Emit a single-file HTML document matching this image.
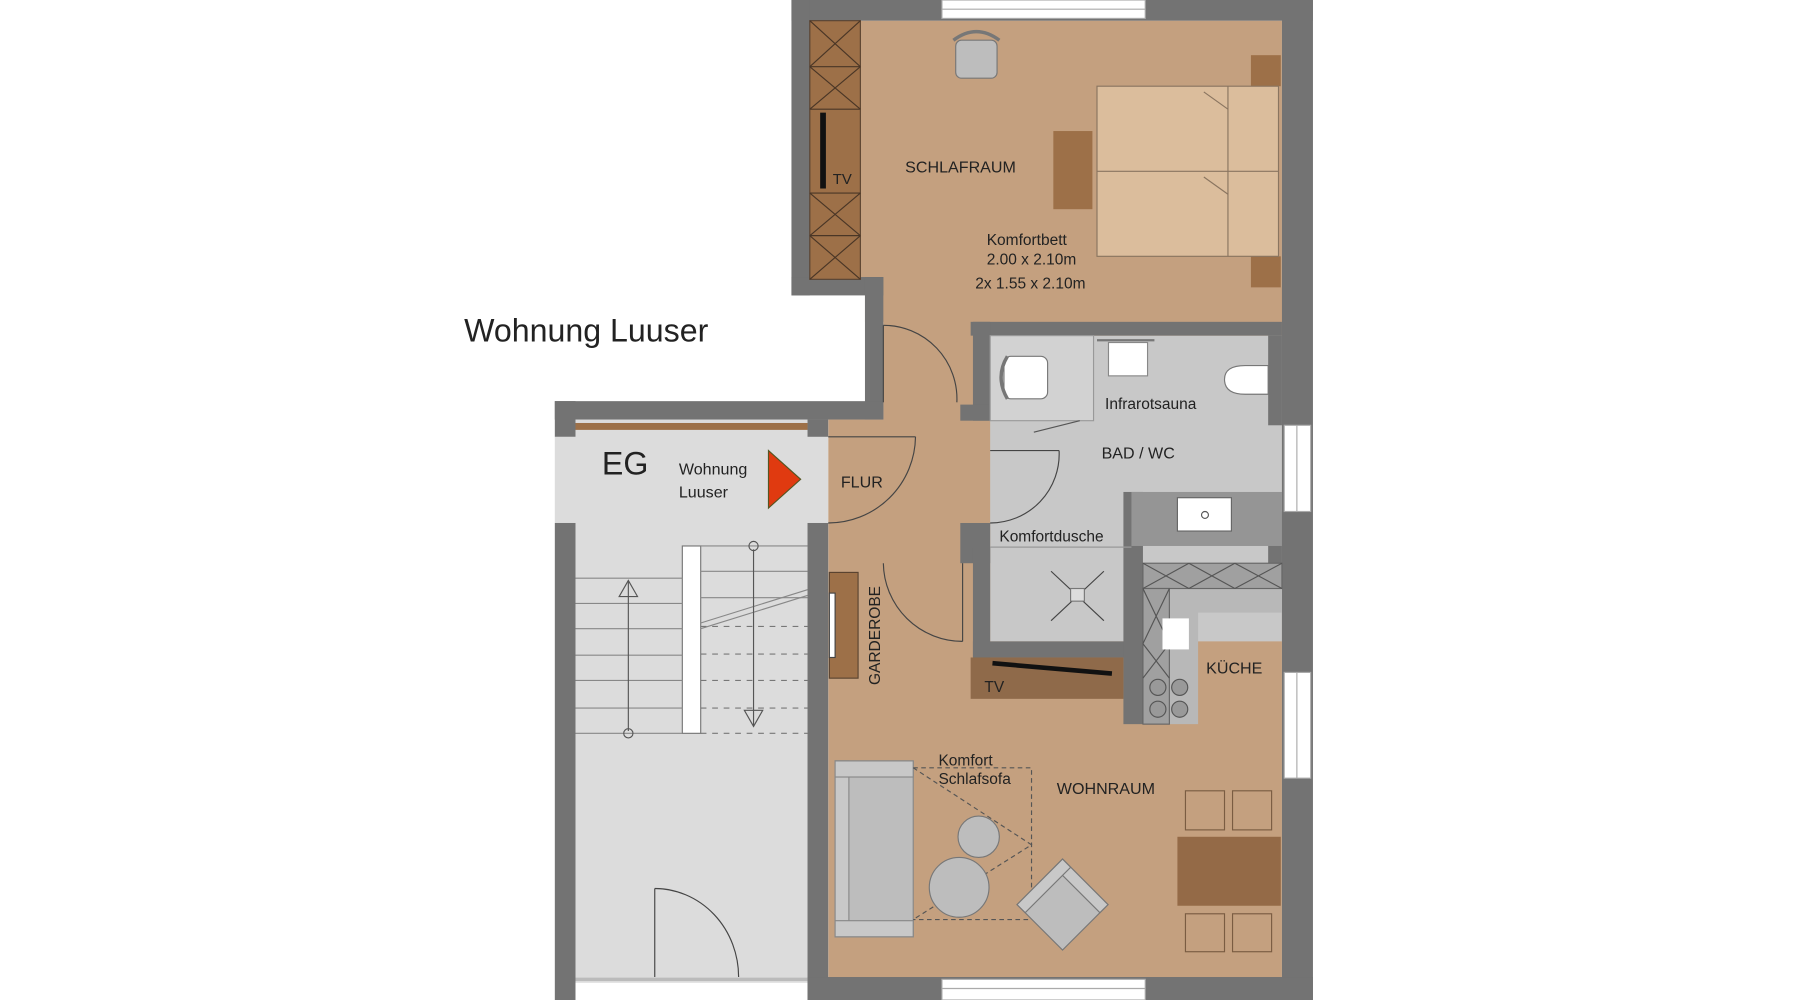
<!DOCTYPE html>
<html><head><meta charset="utf-8"><style>
html,body{margin:0;padding:0;background:#fff;width:1800px;height:1000px;overflow:hidden}
svg{display:block}
text{font-family:"Liberation Sans",sans-serif;fill:#222}
</style></head><body>
<svg width="1800" height="1000" viewBox="0 0 1567 870" preserveAspectRatio="none" xmlns="http://www.w3.org/2000/svg">
<rect width="1567" height="870" fill="#fff"/>
<!-- floors -->
<rect x="705" y="18" width="411" height="262" fill="#c4a07f"/>
<rect x="689" y="241" width="64" height="45" fill="#fff"/>
<rect x="769" y="250" width="347" height="610" fill="#c4a07f"/>
<rect x="721" y="365" width="60" height="490" fill="#c4a07f"/>
<rect x="862" y="292" width="254" height="266" fill="#c8c8c8"/>
<rect x="501" y="365" width="220" height="490" fill="#dcdcdc"/>
<rect x="483" y="380" width="20" height="75" fill="#dcdcdc"/>
<!-- walls -->
<g fill="#737373">
<rect x="689" y="0" width="454" height="18"/>
<rect x="689" y="0" width="16" height="257"/>
<rect x="689" y="241" width="80" height="16"/>
<rect x="753" y="241" width="16" height="124"/>
<rect x="483" y="349" width="286" height="16"/>
<rect x="483" y="349" width="18" height="31"/>
<rect x="483" y="455" width="18" height="415"/>
<rect x="703" y="365" width="18" height="15"/>
<rect x="703" y="455" width="18" height="415"/>
<rect x="1116" y="0" width="27" height="870"/>
<rect x="703" y="850" width="440" height="20"/>
<rect x="845" y="280" width="271" height="12"/>
<rect x="847" y="280" width="15" height="86"/>
<rect x="836" y="352" width="26" height="14"/>
<rect x="836" y="455" width="26" height="35"/>
<rect x="847" y="476" width="15" height="96"/>
<rect x="847" y="558" width="138" height="14"/>
<rect x="978" y="428" width="17" height="202"/>
<rect x="1104" y="292" width="12" height="78"/>
<rect x="1104" y="445" width="12" height="45"/>
</g>
<!-- windows -->
<g fill="#fff" stroke="#aaa" stroke-width="1">
<rect x="820" y="0" width="177" height="16"/>
<rect x="820" y="852" width="177" height="18"/>
<rect x="1118" y="370" width="23" height="75"/>
<rect x="1118" y="585" width="23" height="92"/>
</g>
<g stroke="#aaa" stroke-width="1">
<line x1="820" y1="8" x2="997" y2="8"/><line x1="820" y1="860" x2="997" y2="860"/>
<line x1="1129" y1="370" x2="1129" y2="445"/><line x1="1129" y1="585" x2="1129" y2="677"/>
</g>
<!-- bedroom -->
<rect x="705" y="18" width="44" height="225" fill="#9d7048" stroke="#5a4330" stroke-width="1"/>
<g stroke="#4a3626" stroke-width="1" fill="none">
<path d="M705 18L749 58M749 18L705 58M705 58L749 95M749 58L705 95M705 168L749 205M749 168L705 205M705 205L749 243M749 205L705 243"/>
<line x1="705" y1="58" x2="749" y2="58"/><line x1="705" y1="95" x2="749" y2="95"/><line x1="705" y1="168" x2="749" y2="168"/><line x1="705" y1="205" x2="749" y2="205"/>
</g>
<rect x="714" y="98" width="5" height="66" fill="#111"/>
<text x="725" y="160" font-size="13">TV</text>
<rect x="832" y="35" width="36" height="33" rx="5" fill="#bdbdbd" stroke="#777"/>
<path d="M830 35Q850 20 870 35" fill="none" stroke="#777" stroke-width="3"/>
<rect x="1089" y="48" width="26" height="27" fill="#9d7048"/>
<rect x="1089" y="223" width="26" height="27" fill="#9d7048"/>
<rect x="955" y="75" width="158" height="148" fill="#dbbd9c" stroke="#8a7560"/>
<g stroke="#8a7560" fill="none"><line x1="955" y1="149" x2="1113" y2="149"/><line x1="1069" y1="75" x2="1069" y2="223"/><line x1="1048" y1="80" x2="1069" y2="95"/><line x1="1048" y1="154" x2="1069" y2="169"/></g>
<rect x="917" y="114" width="34" height="68" fill="#9d7048"/>
<text x="788" y="150" font-size="14">SCHLAFRAUM</text>
<text x="859" y="213" font-size="13.5">Komfortbett</text>
<text x="859" y="230" font-size="13.5">2.00 x 2.10m</text>
<text x="849" y="251" font-size="13.5">2x 1.55 x 2.10m</text>
<!-- doors -->
<g fill="none" stroke="#444" stroke-width="1">
<path d="M769 283A64 64 0 0 1 833 350"/><line x1="769" y1="283" x2="769" y2="350"/>
<path d="M721 455A76 76 0 0 0 797 380"/><line x1="721" y1="380" x2="797" y2="380"/>
<path d="M769 490A69 69 0 0 0 838 558"/><line x1="838" y1="490" x2="838" y2="558"/>
<path d="M862 455A60 60 0 0 0 922 392"/><line x1="862" y1="392" x2="922" y2="392"/>
<path d="M570 773A73 77 0 0 1 643 850"/><line x1="570" y1="773" x2="570" y2="850"/>
</g>
<text x="732" y="424" font-size="14">FLUR</text>
<!-- bathroom -->
<rect x="862" y="292" width="90" height="74" fill="#d2d2d2" stroke="#999"/>
<rect x="874" y="310" width="38" height="37" rx="6" fill="#fff" stroke="#777"/>
<path d="M877 310Q866 328 877 347" fill="none" stroke="#777" stroke-width="3"/>
<line x1="900" y1="376" x2="940" y2="366" stroke="#555"/>
<rect x="965" y="298" width="34" height="29" fill="#fff" stroke="#888"/>
<line x1="955" y1="296" x2="1005" y2="296" stroke="#777" stroke-width="2"/>
<path d="M1104 318H1084Q1066 318 1066 330Q1066 343 1084 343H1104Z" fill="#fff" stroke="#777"/>
<text x="962" y="356" font-size="13.5">Infrarotsauna</text>
<text x="959" y="399" font-size="14">BAD / WC</text>
<rect x="985" y="428" width="131" height="47" fill="#959595"/>
<rect x="1025" y="433" width="47" height="29" fill="#fff" stroke="#666"/>
<circle cx="1049" cy="448" r="3" fill="none" stroke="#555"/>
<line x1="862" y1="476" x2="985" y2="476" stroke="#999"/>
<text x="870" y="471" font-size="13.5">Komfortdusche</text>
<g stroke="#444"><line x1="915" y1="497" x2="961" y2="540"/><line x1="961" y1="497" x2="915" y2="540"/></g>
<rect x="932" y="512" width="12" height="11" fill="#ddd" stroke="#777"/>
<!-- garderobe -->
<rect x="722" y="498" width="25" height="92" fill="#9d7048" stroke="#5a4330"/>
<rect x="722" y="516" width="5" height="56" fill="#fff" stroke="#444"/>
<text transform="translate(766,596) rotate(-90)" font-size="13.5">GARDEROBE</text>
<!-- tv unit -->
<rect x="845" y="572" width="133" height="36" fill="#8f6a4a"/>
<line x1="864" y1="577" x2="968" y2="586" stroke="#111" stroke-width="4"/>
<text x="857" y="602" font-size="13.5">TV</text>
<!-- kitchen -->
<rect x="995" y="490" width="121" height="43" fill="#b8b8b8"/>
<rect x="995" y="490" width="48" height="140" fill="#b8b8b8"/>
<rect x="995" y="490" width="121" height="22" fill="#a0a0a0" stroke="#666"/>
<rect x="995" y="512" width="23" height="118" fill="#a0a0a0" stroke="#666"/>
<g stroke="#555" fill="none"><path d="M995 490L1035 512M1035 490L995 512M1035 490L1075 512M1075 490L1035 512M1075 490L1116 512M1116 490L1075 512M995 512L1018 560M1018 512L995 560M995 560L1018 590M1018 560L995 590"/></g>
<rect x="1012" y="538" width="23" height="27" fill="#fff"/>
<g fill="#999" stroke="#555"><circle cx="1008" cy="598" r="7"/><circle cx="1027" cy="598" r="7"/><circle cx="1008" cy="617" r="7"/><circle cx="1027" cy="617" r="7"/></g>
<text x="1050" y="586" font-size="14">KÜCHE</text>
<!-- living -->
<rect x="727" y="662" width="68" height="153" fill="#bdbdbd" stroke="#888"/>
<rect x="727" y="662" width="12" height="153" fill="#c8c8c8" stroke="#888"/>
<rect x="727" y="662" width="68" height="14" fill="#c8c8c8" stroke="#888"/>
<rect x="727" y="801" width="68" height="14" fill="#c8c8c8" stroke="#888"/>
<g stroke="#555" fill="none" stroke-dasharray="4 3"><path d="M795 668H898V800H795M795 668L898 735L795 800"/></g>
<circle cx="852" cy="728" r="18" fill="#bdbdbd" stroke="#777"/>
<circle cx="835" cy="772" r="26" fill="#bdbdbd" stroke="#777"/>
<g transform="translate(925,787) rotate(45)"><rect x="-28" y="-28" width="56" height="56" fill="#bdbdbd" stroke="#777"/><rect x="-28" y="-28" width="56" height="10" fill="#c8c8c8" stroke="#777"/><rect x="-28" y="-28" width="10" height="56" fill="#c8c8c8" stroke="#777"/></g>
<text x="817" y="666" font-size="13.5">Komfort</text>
<text x="817" y="682" font-size="13.5">Schlafsofa</text>
<text x="920" y="691" font-size="14">WOHNRAUM</text>
<rect x="1025" y="728" width="90" height="60" fill="#946a47"/>
<g fill="none" stroke="#7a5c42"><rect x="1032" y="688" width="34" height="34"/><rect x="1073" y="688" width="34" height="34"/><rect x="1032" y="795" width="34" height="33"/><rect x="1073" y="795" width="34" height="33"/></g>
<!-- stair area -->
<rect x="501" y="368" width="202" height="6" fill="#9d7048"/>
<text x="524" y="413" font-size="28">EG</text>
<text x="591" y="413" font-size="14">Wohnung</text>
<text x="591" y="433" font-size="14">Luuser</text>
<polygon points="669,392 697,417 669,442" fill="#e03a10" stroke="#552"/>
<rect x="594" y="475" width="16" height="163" fill="#fff" stroke="#777"/>
<g stroke="#888"><line x1="501" y1="503" x2="594" y2="503"/><line x1="501" y1="525" x2="594" y2="525"/><line x1="501" y1="547" x2="594" y2="547"/><line x1="501" y1="570" x2="594" y2="570"/><line x1="501" y1="592" x2="594" y2="592"/><line x1="501" y1="616" x2="594" y2="616"/><line x1="501" y1="638" x2="594" y2="638"/>
<line x1="610" y1="475" x2="703" y2="475"/><line x1="610" y1="497" x2="703" y2="497"/><line x1="610" y1="520" x2="703" y2="520"/>
<line x1="610" y1="542" x2="703" y2="513"/><line x1="610" y1="547" x2="703" y2="518"/></g>
<g stroke="#777" stroke-dasharray="5 5"><line x1="610" y1="545" x2="703" y2="545"/><line x1="610" y1="569" x2="703" y2="569"/><line x1="610" y1="592" x2="703" y2="592"/><line x1="610" y1="616" x2="703" y2="616"/><line x1="610" y1="638" x2="703" y2="638"/></g>
<g stroke="#555" fill="none"><line x1="547" y1="505" x2="547" y2="636"/><polygon points="547,505 539,519 555,519"/><circle cx="547" cy="638" r="4"/>
<line x1="656" y1="478" x2="656" y2="632"/><polygon points="656,632 648,618 664,618"/><circle cx="656" cy="475" r="4"/></g>
<line x1="501" y1="852" x2="703" y2="852" stroke="#bbb" stroke-width="3"/>
<text x="404" y="297" font-size="28">Wohnung Luuser</text>
</svg>
</body></html>
